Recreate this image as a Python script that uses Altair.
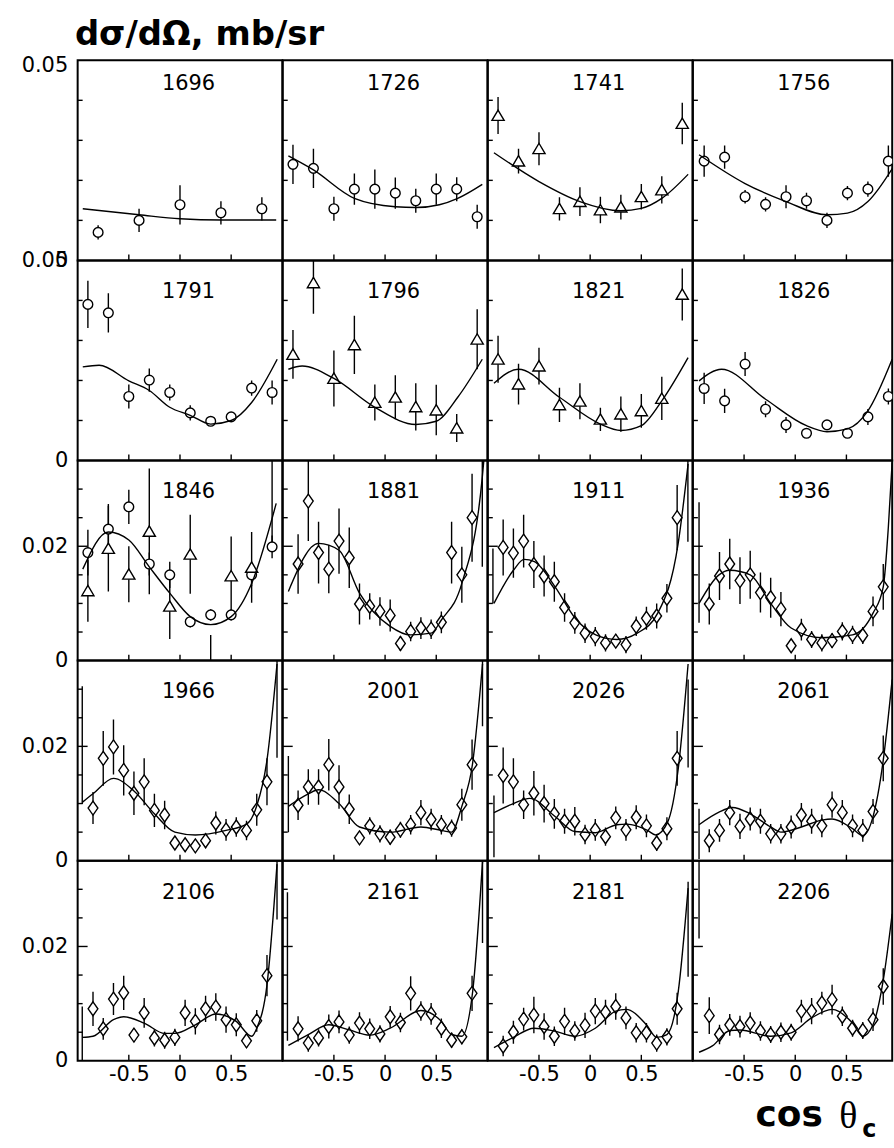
import altair as alt
import pandas as pd

FONT = "DejaVu Sans"

LABELS = ["1696", "1726", "1741", "1756",
          "1791", "1796", "1821", "1826",
          "1846", "1881", "1911", "1936",
          "1966", "2001", "2026", "2061",
          "2106", "2161", "2181", "2206"]

# data points: (cos theta, dsigma/dOmega, error)
PTS_1696 = [(-0.80, 0.0070, 0.0018), (-0.40, 0.0100, 0.0029), (0.00, 0.0139, 0.0049),
            (0.40, 0.0119, 0.0029), (0.80, 0.0129, 0.0029)]
PTS_1726 = [(-0.90, 0.0240, 0.0049), (-0.70, 0.0230, 0.0049), (-0.50, 0.0129, 0.0030),
            (-0.30, 0.0178, 0.0039), (-0.10, 0.0178, 0.0049), (0.10, 0.0168, 0.0039),
            (0.30, 0.0149, 0.0030), (0.50, 0.0178, 0.0039), (0.70, 0.0178, 0.0030),
            (0.90, 0.0109, 0.0030)]
PTS_1741 = [(-0.90, 0.0362, 0.0046), (-0.70, 0.0248, 0.0031), (-0.50, 0.0279, 0.0041),
            (-0.30, 0.0129, 0.0029), (-0.10, 0.0147, 0.0036), (0.10, 0.0126, 0.0033),
            (0.30, 0.0133, 0.0031), (0.50, 0.0159, 0.0032), (0.70, 0.0176, 0.0034),
            (0.90, 0.0342, 0.0052)]
PTS_1756 = [(-0.89, 0.0248, 0.0039), (-0.69, 0.0258, 0.0029), (-0.49, 0.0159, 0.0017),
            (-0.29, 0.0140, 0.0018), (-0.09, 0.0159, 0.0029), (0.11, 0.0149, 0.0020),
            (0.31, 0.0100, 0.0019), (0.51, 0.0168, 0.0018), (0.71, 0.0178, 0.0019),
            (0.91, 0.0248, 0.0039)]
PTS_1791 = [(-0.90, 0.0390, 0.0059), (-0.70, 0.0369, 0.0049), (-0.50, 0.0160, 0.0030),
            (-0.30, 0.0201, 0.0029), (-0.10, 0.0170, 0.0020), (0.10, 0.0119, 0.0019),
            (0.30, 0.0098, 0.0012), (0.50, 0.0109, 0.0011), (0.70, 0.0181, 0.0019),
            (0.90, 0.0170, 0.0030)]
PTS_1796 = [(-0.90, 0.0265, 0.0061), (-0.70, 0.0444, 0.0077), (-0.50, 0.0205, 0.0070),
            (-0.30, 0.0289, 0.0073), (-0.10, 0.0145, 0.0045), (0.10, 0.0158, 0.0055),
            (0.30, 0.0134, 0.0059), (0.50, 0.0126, 0.0063), (0.70, 0.0081, 0.0035),
            (0.90, 0.0303, 0.0075)]
PTS_1821 = [(-0.90, 0.0253, 0.0059), (-0.70, 0.0191, 0.0051), (-0.50, 0.0236, 0.0046),
            (-0.30, 0.0139, 0.0043), (-0.10, 0.0148, 0.0045), (0.10, 0.0103, 0.0029),
            (0.30, 0.0116, 0.0044), (0.50, 0.0124, 0.0042), (0.70, 0.0155, 0.0054),
            (0.90, 0.0415, 0.0065)]
PTS_1826 = [(-0.89, 0.0180, 0.0039), (-0.69, 0.0149, 0.0030), (-0.49, 0.0241, 0.0030),
            (-0.29, 0.0128, 0.0020), (-0.09, 0.0089, 0.0020), (0.11, 0.0068, 0.0012),
            (0.31, 0.0089, 0.0012), (0.51, 0.0068, 0.0012), (0.71, 0.0109, 0.0020),
            (0.91, 0.0160, 0.0020)]
PTS_1846C = [(-0.90, 0.0189, 0.0040), (-0.70, 0.0230, 0.0044), (-0.50, 0.0269, 0.0030),
             (-0.30, 0.0169, 0.0020), (-0.10, 0.0150, 0.0023), (0.10, 0.0068, 0.0010),
             (0.30, 0.0080, 0.0010), (0.50, 0.0080, 0.0010), (0.70, 0.0150, 0.0020),
             (0.90, 0.0199, 0.0020)]
PTS_1846T = [(-0.90, 0.0122, 0.0054), (-0.70, 0.0196, 0.0075), (-0.50, 0.0151, 0.0049),
             (-0.30, 0.0226, 0.0110), (-0.10, 0.0095, 0.0057), (0.10, 0.0186, 0.0069),
             (0.50, 0.0148, 0.0069), (0.70, 0.0163, 0.0062), (0.90, 0.0420, 0.0220)]
PTS_1881 = [(-0.85, 0.0169, 0.0052), (-0.75, 0.0279, 0.0070), (-0.65, 0.0189, 0.0054),
            (-0.55, 0.0160, 0.0042), (-0.45, 0.0209, 0.0057), (-0.35, 0.0180, 0.0053),
            (-0.25, 0.0099, 0.0036), (-0.15, 0.0095, 0.0023), (-0.05, 0.0086, 0.0025),
            (0.05, 0.0079, 0.0028), (0.15, 0.0030, 0.0013), (0.25, 0.0051, 0.0017),
            (0.35, 0.0057, 0.0019), (0.45, 0.0055, 0.0017), (0.55, 0.0067, 0.0019),
            (0.65, 0.0189, 0.0054), (0.75, 0.0150, 0.0049), (0.85, 0.0250, 0.0077),
            (0.95, 0.0420, 0.0256)]
PTS_1911 = [(-0.85, 0.0198, 0.0049), (-0.75, 0.0188, 0.0043), (-0.65, 0.0209, 0.0046),
            (-0.55, 0.0168, 0.0041), (-0.45, 0.0148, 0.0036), (-0.35, 0.0138, 0.0035),
            (-0.25, 0.0093, 0.0025), (-0.15, 0.0066, 0.0019), (-0.05, 0.0048, 0.0017),
            (0.05, 0.0042, 0.0017), (0.15, 0.0031, 0.0015), (0.25, 0.0034, 0.0012),
            (0.35, 0.0028, 0.0015), (0.45, 0.0060, 0.0017), (0.55, 0.0074, 0.0020),
            (0.65, 0.0078, 0.0022), (0.75, 0.0109, 0.0025), (0.85, 0.0250, 0.0057),
            (0.955, 0.0450, 0.0242)]
PTS_1936 = [(-0.84, 0.0099, 0.0036), (-0.74, 0.0148, 0.0042), (-0.64, 0.0169, 0.0044),
            (-0.54, 0.0140, 0.0041), (-0.44, 0.0150, 0.0042), (-0.34, 0.0119, 0.0035),
            (-0.24, 0.0110, 0.0035), (-0.14, 0.0090, 0.0030), (-0.04, 0.0026, 0.0012),
            (0.06, 0.0054, 0.0019), (0.16, 0.0037, 0.0015), (0.26, 0.0031, 0.0015),
            (0.36, 0.0035, 0.0013), (0.46, 0.0051, 0.0016), (0.56, 0.0045, 0.0016),
            (0.66, 0.0044, 0.0015), (0.76, 0.0086, 0.0026), (0.86, 0.0129, 0.0040)]
PTS_1966 = [(-0.85, 0.0092, 0.0028), (-0.75, 0.0179, 0.0048), (-0.65, 0.0199, 0.0048),
            (-0.55, 0.0158, 0.0044), (-0.45, 0.0118, 0.0038), (-0.35, 0.0138, 0.0041),
            (-0.25, 0.0088, 0.0029), (-0.15, 0.0080, 0.0025), (-0.05, 0.0031, 0.0010),
            (0.05, 0.0028, 0.0010), (0.15, 0.0026, 0.0010), (0.25, 0.0035, 0.0013),
            (0.35, 0.0066, 0.0020), (0.45, 0.0054, 0.0019), (0.55, 0.0059, 0.0017),
            (0.65, 0.0053, 0.0017), (0.75, 0.0089, 0.0028), (0.85, 0.0138, 0.0041),
            (0.948, 0.0450, 0.0270)]
PTS_2001 = [(-0.85, 0.0097, 0.0026), (-0.75, 0.0129, 0.0031), (-0.65, 0.0129, 0.0031),
            (-0.55, 0.0168, 0.0045), (-0.45, 0.0129, 0.0038), (-0.35, 0.0090, 0.0026),
            (-0.25, 0.0040, 0.0010), (-0.15, 0.0061, 0.0015), (-0.05, 0.0047, 0.0015),
            (0.05, 0.0041, 0.0013), (0.15, 0.0054, 0.0014), (0.25, 0.0063, 0.0017),
            (0.35, 0.0084, 0.0022), (0.45, 0.0072, 0.0019), (0.55, 0.0063, 0.0017),
            (0.65, 0.0057, 0.0015), (0.75, 0.0098, 0.0028), (0.85, 0.0168, 0.0044),
            (0.952, 0.0450, 0.0215)]
PTS_2026 = [(-0.85, 0.0149, 0.0049), (-0.75, 0.0138, 0.0041), (-0.65, 0.0098, 0.0025),
            (-0.55, 0.0118, 0.0039), (-0.45, 0.0100, 0.0033), (-0.35, 0.0082, 0.0026),
            (-0.25, 0.0069, 0.0022), (-0.15, 0.0069, 0.0025), (-0.05, 0.0046, 0.0017),
            (0.05, 0.0054, 0.0019), (0.15, 0.0042, 0.0016), (0.25, 0.0075, 0.0020),
            (0.35, 0.0054, 0.0019), (0.45, 0.0076, 0.0021), (0.55, 0.0061, 0.0020),
            (0.65, 0.0031, 0.0014), (0.75, 0.0056, 0.0020), (0.85, 0.0179, 0.0048)]
PTS_2061 = [(-0.84, 0.0035, 0.0020), (-0.74, 0.0053, 0.0020), (-0.64, 0.0084, 0.0022),
            (-0.54, 0.0060, 0.0022), (-0.44, 0.0073, 0.0020), (-0.34, 0.0069, 0.0022),
            (-0.24, 0.0047, 0.0017), (-0.14, 0.0047, 0.0017), (-0.04, 0.0059, 0.0020),
            (0.06, 0.0080, 0.0021), (0.16, 0.0069, 0.0022), (0.26, 0.0061, 0.0020),
            (0.36, 0.0098, 0.0023), (0.46, 0.0084, 0.0022), (0.56, 0.0061, 0.0020),
            (0.66, 0.0053, 0.0020), (0.76, 0.0086, 0.0022), (0.86, 0.0179, 0.0040)]
PTS_2106 = [(-0.85, 0.0091, 0.0030), (-0.75, 0.0056, 0.0019), (-0.65, 0.0108, 0.0028),
            (-0.55, 0.0119, 0.0030), (-0.45, 0.0045, 0.0012), (-0.35, 0.0084, 0.0026),
            (-0.25, 0.0040, 0.0015), (-0.15, 0.0036, 0.0015), (-0.05, 0.0041, 0.0015),
            (0.05, 0.0084, 0.0023), (0.15, 0.0069, 0.0023), (0.25, 0.0091, 0.0023),
            (0.35, 0.0094, 0.0024), (0.45, 0.0072, 0.0023), (0.55, 0.0063, 0.0020),
            (0.65, 0.0035, 0.0012), (0.75, 0.0070, 0.0019), (0.85, 0.0149, 0.0036),
            (0.948, 0.0400, 0.0153)]
PTS_2161 = [(-0.85, 0.0056, 0.0022), (-0.75, 0.0031, 0.0015), (-0.65, 0.0040, 0.0015),
            (-0.55, 0.0060, 0.0021), (-0.45, 0.0068, 0.0020), (-0.35, 0.0045, 0.0015),
            (-0.25, 0.0066, 0.0019), (-0.15, 0.0056, 0.0018), (-0.05, 0.0047, 0.0015),
            (0.05, 0.0077, 0.0019), (0.15, 0.0067, 0.0017), (0.25, 0.0118, 0.0030),
            (0.35, 0.0087, 0.0017), (0.45, 0.0082, 0.0019), (0.55, 0.0057, 0.0017),
            (0.65, 0.0036, 0.0013), (0.75, 0.0042, 0.0013), (0.85, 0.0118, 0.0031),
            (0.952, 0.0400, 0.0194)]
PTS_2181 = [(-0.85, 0.0026, 0.0018), (-0.75, 0.0050, 0.0020), (-0.65, 0.0073, 0.0020),
            (-0.55, 0.0080, 0.0032), (-0.45, 0.0060, 0.0023), (-0.35, 0.0043, 0.0017),
            (-0.25, 0.0069, 0.0024), (-0.15, 0.0052, 0.0017), (-0.05, 0.0062, 0.0022),
            (0.05, 0.0087, 0.0023), (0.15, 0.0085, 0.0022), (0.25, 0.0095, 0.0023),
            (0.35, 0.0075, 0.0020), (0.45, 0.0049, 0.0017), (0.55, 0.0049, 0.0017),
            (0.65, 0.0031, 0.0015), (0.75, 0.0042, 0.0015), (0.85, 0.0091, 0.0028)]
PTS_2206 = [(-0.84, 0.0079, 0.0032), (-0.74, 0.0046, 0.0017), (-0.64, 0.0063, 0.0019),
            (-0.54, 0.0060, 0.0019), (-0.44, 0.0066, 0.0019), (-0.34, 0.0052, 0.0017),
            (-0.24, 0.0046, 0.0015), (-0.14, 0.0050, 0.0017), (-0.04, 0.0050, 0.0015),
            (0.06, 0.0087, 0.0020), (0.16, 0.0087, 0.0023), (0.26, 0.0101, 0.0020),
            (0.36, 0.0107, 0.0026), (0.46, 0.0078, 0.0017), (0.56, 0.0057, 0.0015),
            (0.66, 0.0053, 0.0015), (0.76, 0.0072, 0.0020), (0.86, 0.0130, 0.0032)]

# error bars whose marker is not drawn: (cos theta, low, high)
BAR_1846 = [(0.30, 0.0, 0.0045)]
BAR_1911 = [(-0.95, 0.0100, 0.0196)]
BAR_1936 = [(-0.94, 0.0066, 0.0277)]
BAR_1966 = [(-0.955, 0.0099, 0.0305)]
BAR_2001 = [(-0.945, 0.0050, 0.0183)]
BAR_2026 = [(-0.94, 0.0006, 0.0114), (0.957, 0.0163, 0.0317)]
BAR_2061 = [(-0.94, 0.0003, 0.0091)]
BAR_2106 = [(-0.955, 0.0, 0.0095)]
BAR_2161 = [(-0.954, 0.0035, 0.0295)]
BAR_2181 = [(0.957, 0.0147, 0.0313)]
BAR_2206 = [(-0.94, 0.0214, 0.0360)]

# model curves: (cos theta, dsigma/dOmega)
CUR_1696 = [(-0.95, 0.0129), (-0.4, 0.0114), (0.0, 0.0104), (0.4, 0.0101), (0.94, 0.0101)]
CUR_1726 = [(-0.945, 0.0261), (-0.70, 0.0226), (-0.30, 0.0155), (0.10, 0.0134), (0.30, 0.0132),
            (0.53, 0.0139), (0.71, 0.0155), (0.95, 0.0190)]
CUR_1741 = [(-0.94, 0.0269), (-0.50, 0.0197), (-0.10, 0.0147), (0.30, 0.0124), (0.50, 0.0130),
            (0.70, 0.0155), (0.957, 0.0215)]
CUR_1756 = [(-0.94, 0.0264), (-0.49, 0.0192), (-0.09, 0.0147), (0.31, 0.0114), (0.51, 0.0118),
            (0.71, 0.0147), (0.95, 0.0230)]
CUR_1791 = [(-0.95, 0.0234), (-0.79, 0.0238), (-0.50, 0.0199), (-0.30, 0.0175), (-0.10, 0.0133),
            (0.10, 0.0113), (0.30, 0.0091), (0.50, 0.0100), (0.70, 0.0145), (0.95, 0.0253)]
CUR_1796 = [(-0.945, 0.0228), (-0.81, 0.0236), (-0.50, 0.0205), (-0.10, 0.0133), (0.30, 0.0090),
            (0.50, 0.0098), (0.71, 0.0158), (0.95, 0.0253)]
CUR_1821 = [(-0.94, 0.0193), (-0.70, 0.0228), (-0.30, 0.0158), (0.10, 0.0091), (0.30, 0.0075),
            (0.50, 0.0087), (0.70, 0.0149), (0.957, 0.0257)]
CUR_1826 = [(-0.94, 0.0199), (-0.72, 0.0228), (-0.29, 0.0153), (0.11, 0.0087), (0.31, 0.0072),
            (0.51, 0.0079), (0.71, 0.0124), (0.947, 0.0253)]
CUR_1846 = [(-0.95, 0.0160), (-0.70, 0.0225), (-0.50, 0.0211), (-0.30, 0.0164), (-0.10, 0.0118),
            (0.10, 0.0077), (0.30, 0.0063), (0.50, 0.0077), (0.70, 0.0135), (0.94, 0.0275)]
CUR_1881 = [(-0.945, 0.0121), (-0.65, 0.0205), (-0.45, 0.0193), (-0.25, 0.0118), (0.05, 0.0060),
            (0.25, 0.0045), (0.45, 0.0048), (0.55, 0.0071), (0.75, 0.0135), (0.95, 0.0321),
            (0.97, 0.0360)]
CUR_1911 = [(-0.94, 0.0100), (-0.75, 0.0158), (-0.645, 0.0177), (-0.545, 0.0173), (-0.343, 0.0129),
            (-0.146, 0.0074), (0.055, 0.0045), (0.26, 0.0037), (0.46, 0.0048), (0.66, 0.0083),
            (0.86, 0.0205), (0.957, 0.0344)]
CUR_1936 = [(-0.94, 0.0100), (-0.745, 0.0150), (-0.64, 0.0158), (-0.44, 0.0150), (-0.24, 0.0100),
            (-0.04, 0.0057), (0.26, 0.0040), (0.56, 0.0045), (0.76, 0.0083), (0.86, 0.0129),
            (0.91, 0.0234), (0.947, 0.0347)]
CUR_1966 = [(-0.955, 0.0102), (-0.85, 0.0117), (-0.65, 0.0144), (-0.45, 0.0122), (-0.25, 0.0082),
            (-0.05, 0.0050), (0.15, 0.0045), (0.45, 0.0053), (0.65, 0.0064), (0.75, 0.0096),
            (0.85, 0.0176), (0.948, 0.0344)]
CUR_2001 = [(-0.945, 0.0095), (-0.75, 0.0117), (-0.65, 0.0124), (-0.45, 0.0100), (-0.25, 0.0059),
            (0.05, 0.0050), (0.35, 0.0059), (0.55, 0.0053), (0.65, 0.0050), (0.75, 0.0095),
            (0.855, 0.0170), (0.952, 0.0344)]
CUR_2026 = [(-0.94, 0.0084), (-0.75, 0.0100), (-0.59, 0.0109), (-0.34, 0.0077), (-0.15, 0.0051),
            (0.05, 0.0049), (0.26, 0.0063), (0.36, 0.0064), (0.56, 0.0053), (0.64, 0.0045),
            (0.756, 0.0067), (0.86, 0.0160), (0.957, 0.0344)]
CUR_2061 = [(-0.94, 0.0063), (-0.745, 0.0085), (-0.615, 0.0093), (-0.44, 0.0082), (-0.24, 0.0059),
            (-0.14, 0.0050), (0.06, 0.0059), (0.26, 0.0071), (0.36, 0.0073), (0.56, 0.0056),
            (0.66, 0.0044), (0.76, 0.0077), (0.86, 0.0176), (0.947, 0.0317)]
CUR_2106 = [(-0.955, 0.0041), (-0.85, 0.0043), (-0.65, 0.0072), (-0.55, 0.0077), (-0.35, 0.0066),
            (-0.15, 0.0048), (-0.05, 0.0048), (0.15, 0.0063), (0.35, 0.0082), (0.55, 0.0069),
            (0.70, 0.0043), (0.75, 0.0057), (0.85, 0.0133), (0.948, 0.0344)]
CUR_2161 = [(-0.945, 0.0027), (-0.75, 0.0046), (-0.55, 0.0063), (-0.35, 0.0054), (-0.15, 0.0045),
            (0.05, 0.0057), (0.35, 0.0088), (0.55, 0.0069), (0.65, 0.0046), (0.75, 0.0043),
            (0.855, 0.0120), (0.952, 0.0348)]
CUR_2181 = [(-0.94, 0.0023), (-0.75, 0.0041), (-0.55, 0.0057), (-0.35, 0.0052), (-0.15, 0.0043),
            (0.05, 0.0057), (0.25, 0.0087), (0.35, 0.0090), (0.55, 0.0063), (0.65, 0.0041),
            (0.75, 0.0046), (0.86, 0.0120), (0.957, 0.0302)]
CUR_2206 = [(-0.94, 0.0015), (-0.81, 0.0026), (-0.64, 0.0053), (-0.54, 0.0054), (-0.24, 0.0043),
            (-0.04, 0.0049), (0.16, 0.0075), (0.36, 0.0090), (0.56, 0.0066), (0.66, 0.0043),
            (0.76, 0.0063), (0.86, 0.0141), (0.947, 0.0257)]

X_TICKS = [-0.5, 0.0, 0.5]
Y_MINOR_TOP = [0.01, 0.02, 0.03, 0.04]
Y_MINOR_LOW = [0.005, 0.01, 0.015, 0.025, 0.03]
Y_MAJOR_LOW = [0.02]

CIRCLE = "circle"
TRIANGLE = "M0,-0.9L1,0.8L-1,0.8Z"
DIAMOND = "M0,-1L0.7,0L0,1L-0.7,0Z"
SIZES = {CIRCLE: 95, TRIANGLE: 150, DIAMOND: 196}

POINTS = {
    "1696": [(PTS_1696, CIRCLE)], "1726": [(PTS_1726, CIRCLE)],
    "1741": [(PTS_1741, TRIANGLE)], "1756": [(PTS_1756, CIRCLE)],
    "1791": [(PTS_1791, CIRCLE)], "1796": [(PTS_1796, TRIANGLE)],
    "1821": [(PTS_1821, TRIANGLE)], "1826": [(PTS_1826, CIRCLE)],
    "1846": [(PTS_1846C, CIRCLE), (PTS_1846T, TRIANGLE)],
    "1881": [(PTS_1881, DIAMOND)], "1911": [(PTS_1911, DIAMOND)],
    "1936": [(PTS_1936, DIAMOND)], "1966": [(PTS_1966, DIAMOND)],
    "2001": [(PTS_2001, DIAMOND)], "2026": [(PTS_2026, DIAMOND)],
    "2061": [(PTS_2061, DIAMOND)], "2106": [(PTS_2106, DIAMOND)],
    "2161": [(PTS_2161, DIAMOND)], "2181": [(PTS_2181, DIAMOND)],
    "2206": [(PTS_2206, DIAMOND)],
}
BARS = {"1846": BAR_1846, "1911": BAR_1911, "1936": BAR_1936, "1966": BAR_1966,
        "2001": BAR_2001, "2026": BAR_2026, "2061": BAR_2061, "2106": BAR_2106,
        "2161": BAR_2161, "2181": BAR_2181, "2206": BAR_2206}
CURVES = {"1696": CUR_1696, "1726": CUR_1726, "1741": CUR_1741, "1756": CUR_1756,
          "1791": CUR_1791, "1796": CUR_1796, "1821": CUR_1821, "1826": CUR_1826,
          "1846": CUR_1846, "1881": CUR_1881, "1911": CUR_1911, "1936": CUR_1936,
          "1966": CUR_1966, "2001": CUR_2001, "2026": CUR_2026, "2061": CUR_2061,
          "2106": CUR_2106, "2161": CUR_2161, "2181": CUR_2181, "2206": CUR_2206}

W_FULL = 205.6
W_LAST = 200.2
H = 201
X_MAX_LAST = -1 + 2 * W_LAST / W_FULL
LW = 1.4


def panel(i):
    lab = LABELS[i]
    r, c = divmod(i, 4)
    w = W_LAST if c == 3 else W_FULL
    xdom = [-1, X_MAX_LAST] if c == 3 else [-1, 1]
    ymax = 0.05 if r < 2 else 0.035
    xs = alt.Scale(domain=xdom, nice=False, zero=False)
    ys = alt.Scale(domain=[0, ymax], nice=False, zero=False)

    if r == 4:
        xaxis = alt.Axis(values=X_TICKS,
                         labelExpr="replace(format(datum.value, '~g'), '\u2212', '-')",
                         labelPadding=3, labelFlush=False, title=None)
    else:
        xaxis = None
    if c == 0:
        yvals = [0, 0.05] if r < 2 else [0, 0.02]
        if r == 0:
            yaxis = alt.Axis(values=yvals, format="~g", labelPadding=10, title=None,
                             labelOffset={"condition": {"test": "datum.value > 0.04", "value": 5},
                                          "value": 0})
        else:
            yaxis = alt.Axis(values=yvals, format="~g", labelPadding=10, title=None)
    else:
        yaxis = None

    def X(field):
        return alt.X(field, scale=xs, axis=xaxis)

    def Y(field):
        return alt.Y(field, scale=ys, axis=yaxis)

    bar_rows = []
    for plist, _ in POINTS[lab]:
        for (x, y, e) in plist:
            bar_rows.append({"x": x, "lo": y - e, "hi": y + e})
    for (x, lo, hi) in BARS.get(lab, []):
        bar_rows.append({"x": x, "lo": lo, "hi": hi})
    bars_df = pd.DataFrame(bar_rows)

    layers = []
    layers.append(alt.Chart(bars_df).mark_rule(color="black", strokeWidth=LW, clip=True).encode(
        x=X("x:Q"), y=Y("lo:Q"), y2="hi:Q"))

    for plist, shape in POINTS[lab]:
        pdf = pd.DataFrame([{"x": x, "y": y} for (x, y, e) in plist])
        layers.append(alt.Chart(pdf).mark_point(
            shape=shape, size=SIZES[shape], filled=True, fill="white", stroke="black",
            strokeWidth=LW, opacity=1, clip=True).encode(x=X("x:Q"), y=Y("y:Q")))

    cdf = pd.DataFrame([{"x": x, "y": y, "i": k} for k, (x, y) in enumerate(CURVES[lab])])
    layers.append(alt.Chart(cdf).mark_line(color="black", strokeWidth=LW, interpolate="monotone",
                                           clip=True).encode(
        x=X("x:Q"), y=Y("y:Q"), order="i:Q"))

    # inward ticks
    minor = Y_MINOR_TOP if r < 2 else Y_MINOR_LOW
    layers.append(alt.Chart(pd.DataFrame({"v": minor})).mark_rule(color="black", strokeWidth=LW).encode(
        y=Y("v:Q"), x=alt.value(0), x2=alt.value(5)))
    if r >= 2:
        layers.append(alt.Chart(pd.DataFrame({"v": Y_MAJOR_LOW})).mark_rule(
            color="black", strokeWidth=LW).encode(y=Y("v:Q"), x=alt.value(0), x2=alt.value(10)))
    layers.append(alt.Chart(pd.DataFrame({"v": X_TICKS})).mark_rule(color="black", strokeWidth=LW).encode(
        x=X("v:Q"), y=alt.value(H), y2=alt.value(H - 6)))

    # energy label
    ly = 24 if r == 0 else 32
    layers.append(alt.Chart(pd.DataFrame({"t": [lab]})).mark_text(
        font=FONT, fontSize=21, color="black", align="center", baseline="middle").encode(
        x=alt.value(W_FULL / 2 + 8.5), y=alt.value(ly), text="t:N"))

    if i == 19:
        layers.append(alt.Chart(pd.DataFrame({"t": ["cos"]})).mark_text(
            font=FONT, fontSize=36, fontWeight="bold", color="black", align="left",
            baseline="alphabetic").encode(x=alt.value(63), y=alt.value(266), text="t:N"))
        layers.append(alt.Chart(pd.DataFrame({"t": ["\u03b8"]})).mark_text(
            font="Liberation Serif", fontSize=38, color="black", align="left",
            baseline="alphabetic").encode(x=alt.value(147), y=alt.value(268), text="t:N"))
        layers.append(alt.Chart(pd.DataFrame({"t": ["cm"]})).mark_text(
            font=FONT, fontSize=24, fontWeight="bold", color="black", align="left",
            baseline="alphabetic", limit=29, ellipsis="\u200b").encode(
            x=alt.value(170), y=alt.value(278), text="t:N"))

    return alt.layer(*layers).properties(width=w, height=H)


panels = [panel(i) for i in range(20)]

chart = alt.concat(*panels, columns=4, spacing=0, align="each", bounds="flush").properties(
    title=alt.TitleParams("d\u03c3/d\u03a9, mb/sr", anchor="start", font=FONT, fontSize=34,
                          fontWeight="bold", color="black", dx=55, offset=1),
    padding={"left": 20, "top": 16, "right": 0, "bottom": 0},
    background="white",
).configure_view(stroke="black", strokeWidth=2).configure_axis(
    labelFont=FONT, labelFontSize=21, labelColor="black", ticks=False, domain=False, grid=False
).configure_concat(spacing=0)

chart.save("out.html", embed_options={"renderer": "svg", "actions": False})
